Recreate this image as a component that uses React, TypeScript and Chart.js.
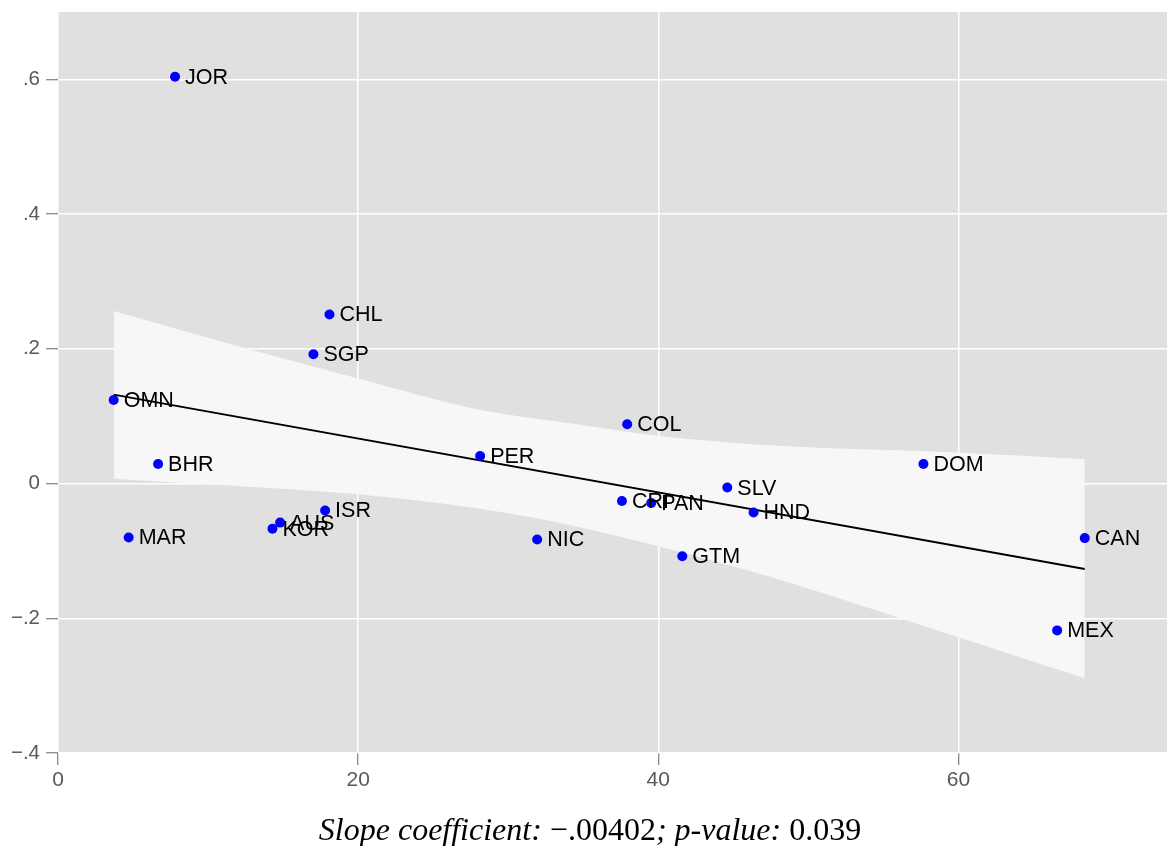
import React, { useEffect, useRef } from 'react';
import { Chart, registerables } from 'chart.js';
Chart.register(...registerables);

const countries = ['JOR', 'CHL', 'SGP', 'OMN', 'COL', 'PER', 'BHR', 'DOM', 'SLV', 'CRI', 'PAN', 'HND', 'ISR', 'AUS', 'KOR', 'MAR', 'NIC', 'CAN', 'GTM', 'MEX'];
const xValues = [7.8, 18.09, 17.02, 3.71, 37.93, 28.13, 6.67, 57.67, 44.6, 37.58, 39.53, 46.35, 17.8, 14.8, 14.29, 4.71, 31.93, 68.42, 41.6, 66.58];
const yValues = [0.604, 0.251, 0.192, 0.124, 0.088, 0.041, 0.029, 0.029, -0.006, -0.026, -0.029, -0.043, -0.040, -0.058, -0.067, -0.080, -0.083, -0.081, -0.108, -0.218];

const fitX = [3.71, 68.42];
const fitY = [0.132, -0.127];

const bandX = [3.71, 12.13, 20, 28, 34, 40, 48, 60, 68.42];
const bandUpper = [0.256, 0.203, 0.156, 0.110, 0.090, 0.071, 0.056, 0.046, 0.036];
const bandLower = [0.007, -0.004, -0.016, -0.037, -0.061, -0.093, -0.142, -0.228, -0.289];

const xTicks = [0, 20, 40, 60];
const yTicks = [-0.4, -0.2, 0, 0.2, 0.4, 0.6];

const titleParts = [
  { text: 'Slope coefficient: ', italic: true },
  { text: '\u2212.00402', italic: false },
  { text: '; p-value: ', italic: true },
  { text: '0.039', italic: false },
];

const fmtY = (v: number) => {
  if (Math.abs(v) < 1e-9) return '0';
  const s = Math.abs(v).toFixed(1).replace(/^0/, '');
  return (v < 0 ? '\u2212' : '') + s;
};

const zeroPad = (s: any) => {
  s.paddingTop = 0;
  s.paddingBottom = 0;
  s.paddingLeft = 0;
  s.paddingRight = 0;
};

export default function App() {
  const ref = useRef<HTMLCanvasElement>(null);
  useEffect(() => {
    const bgPlugin = {
      id: 'bg',
      beforeDraw(chart: any) {
        const { ctx, chartArea: a } = chart;
        ctx.save();
        ctx.fillStyle = '#ffffff';
        ctx.fillRect(0, 0, chart.width, chart.height);
        ctx.fillStyle = '#e0e0e0';
        ctx.fillRect(a.left, a.top, a.right - a.left, a.bottom - a.top);
        ctx.restore();
      },
    };
    const labelPlugin = {
      id: 'pointLabels',
      afterDatasetsDraw(chart: any) {
        const { ctx } = chart;
        const meta = chart.getDatasetMeta(0);
        ctx.save();
        ctx.font = '21.5px "Liberation Sans", Arial, sans-serif';
        ctx.fillStyle = '#000';
        ctx.textAlign = 'left';
        ctx.textBaseline = 'middle';
        meta.data.forEach((pt: any, i: number) => {
          ctx.fillText(countries[i], pt.x + 10, pt.y + 1);
        });
        ctx.restore();
      },
    };
    const titlePlugin = {
      id: 'bottomTitle',
      afterDraw(chart: any) {
        const { ctx } = chart;
        ctx.save();
        const fontFor = (it: boolean) => `${it ? 'italic ' : ''}32px "Liberation Serif", "Times New Roman", serif`;
        let total = 0;
        const widths = titleParts.map((p) => {
          ctx.font = fontFor(p.italic);
          const w = ctx.measureText(p.text).width;
          total += w;
          return w;
        });
        let x = 590 - total / 2;
        ctx.fillStyle = '#000';
        ctx.textBaseline = 'alphabetic';
        ctx.textAlign = 'left';
        titleParts.forEach((p, i) => {
          ctx.font = fontFor(p.italic);
          ctx.fillText(p.text, x, 840);
          x += widths[i];
        });
        ctx.restore();
      },
    };

    const chart = new Chart(ref.current!, {
      type: 'scatter',
      data: {
        datasets: [
          {
            label: 'points',
            data: xValues.map((x, i) => ({ x, y: yValues[i] })),
            backgroundColor: '#0000ff',
            borderColor: '#0000ff',
            pointRadius: 5,
            pointBorderWidth: 0,
            showLine: false,
            order: 0,
          },
          {
            label: 'fit',
            data: fitX.map((x, i) => ({ x, y: fitY[i] })),
            borderColor: '#000000',
            borderWidth: 2,
            pointRadius: 0,
            showLine: true,
            fill: false,
            order: 1,
          },
          {
            label: 'upper',
            data: bandX.map((x, i) => ({ x, y: bandUpper[i] })),
            borderColor: 'rgba(0,0,0,0)',
            borderWidth: 0,
            backgroundColor: '#f7f7f7',
            pointRadius: 0,
            showLine: true,
            cubicInterpolationMode: 'monotone',
            fill: '+1',
            order: 2,
          },
          {
            label: 'lower',
            data: bandX.map((x, i) => ({ x, y: bandLower[i] })),
            borderColor: 'rgba(0,0,0,0)',
            borderWidth: 0,
            pointRadius: 0,
            showLine: true,
            cubicInterpolationMode: 'monotone',
            fill: false,
            order: 3,
          },
        ] as any,
      },
      options: {
        responsive: false,
        animation: false,
        devicePixelRatio: 1,
        layout: { autoPadding: false, padding: { top: 12, right: 0, left: 0, bottom: 0 } },
        plugins: {
          legend: { display: false },
          tooltip: { enabled: false },
          title: { display: false },
        },
        scales: {
          x: {
            type: 'linear',
            min: 0,
            max: 73.9,
            afterBuildTicks: (s: any) => {
              s.ticks = xTicks.map((v) => ({ value: v }));
            },
            afterFit: (s: any) => {
              s.height = 93;
              zeroPad(s);
            },
            ticks: {
              color: '#595959',
              font: { family: '"Liberation Sans", Arial, sans-serif', size: 21 },
              padding: 3,
              maxRotation: 0,
              callback: (v: any) => String(v),
            },
            grid: { color: '#ffffff', lineWidth: 1.5, tickColor: '#666666', tickLength: 12, tickWidth: 1 } as any,
            border: { display: false },
          },
          y: {
            type: 'linear',
            min: -0.4,
            max: 0.7,
            afterBuildTicks: (s: any) => {
              s.ticks = yTicks.map((v) => ({ value: v }));
            },
            afterFit: (s: any) => {
              s.width = 58;
              zeroPad(s);
            },
            ticks: {
              color: '#595959',
              font: { family: '"Liberation Sans", Arial, sans-serif', size: 20.5 },
              padding: 6,
              callback: (v: any) => fmtY(Number(v)),
            },
            grid: { color: '#ffffff', lineWidth: 1.5, tickColor: '#666666', tickLength: 12, tickWidth: 1 } as any,
            border: { display: false },
          },
        },
      },
      plugins: [bgPlugin, labelPlugin, titlePlugin],
    } as any);
    return () => chart.destroy();
  }, []);
  return (
    <div style={{ position: 'absolute', left: 0, top: 0, width: 1167, height: 846, background: '#fff' }}>
      <canvas ref={ref} width={1167} height={846} style={{ display: 'block', width: 1167, height: 846 }} />
    </div>
  );
}
